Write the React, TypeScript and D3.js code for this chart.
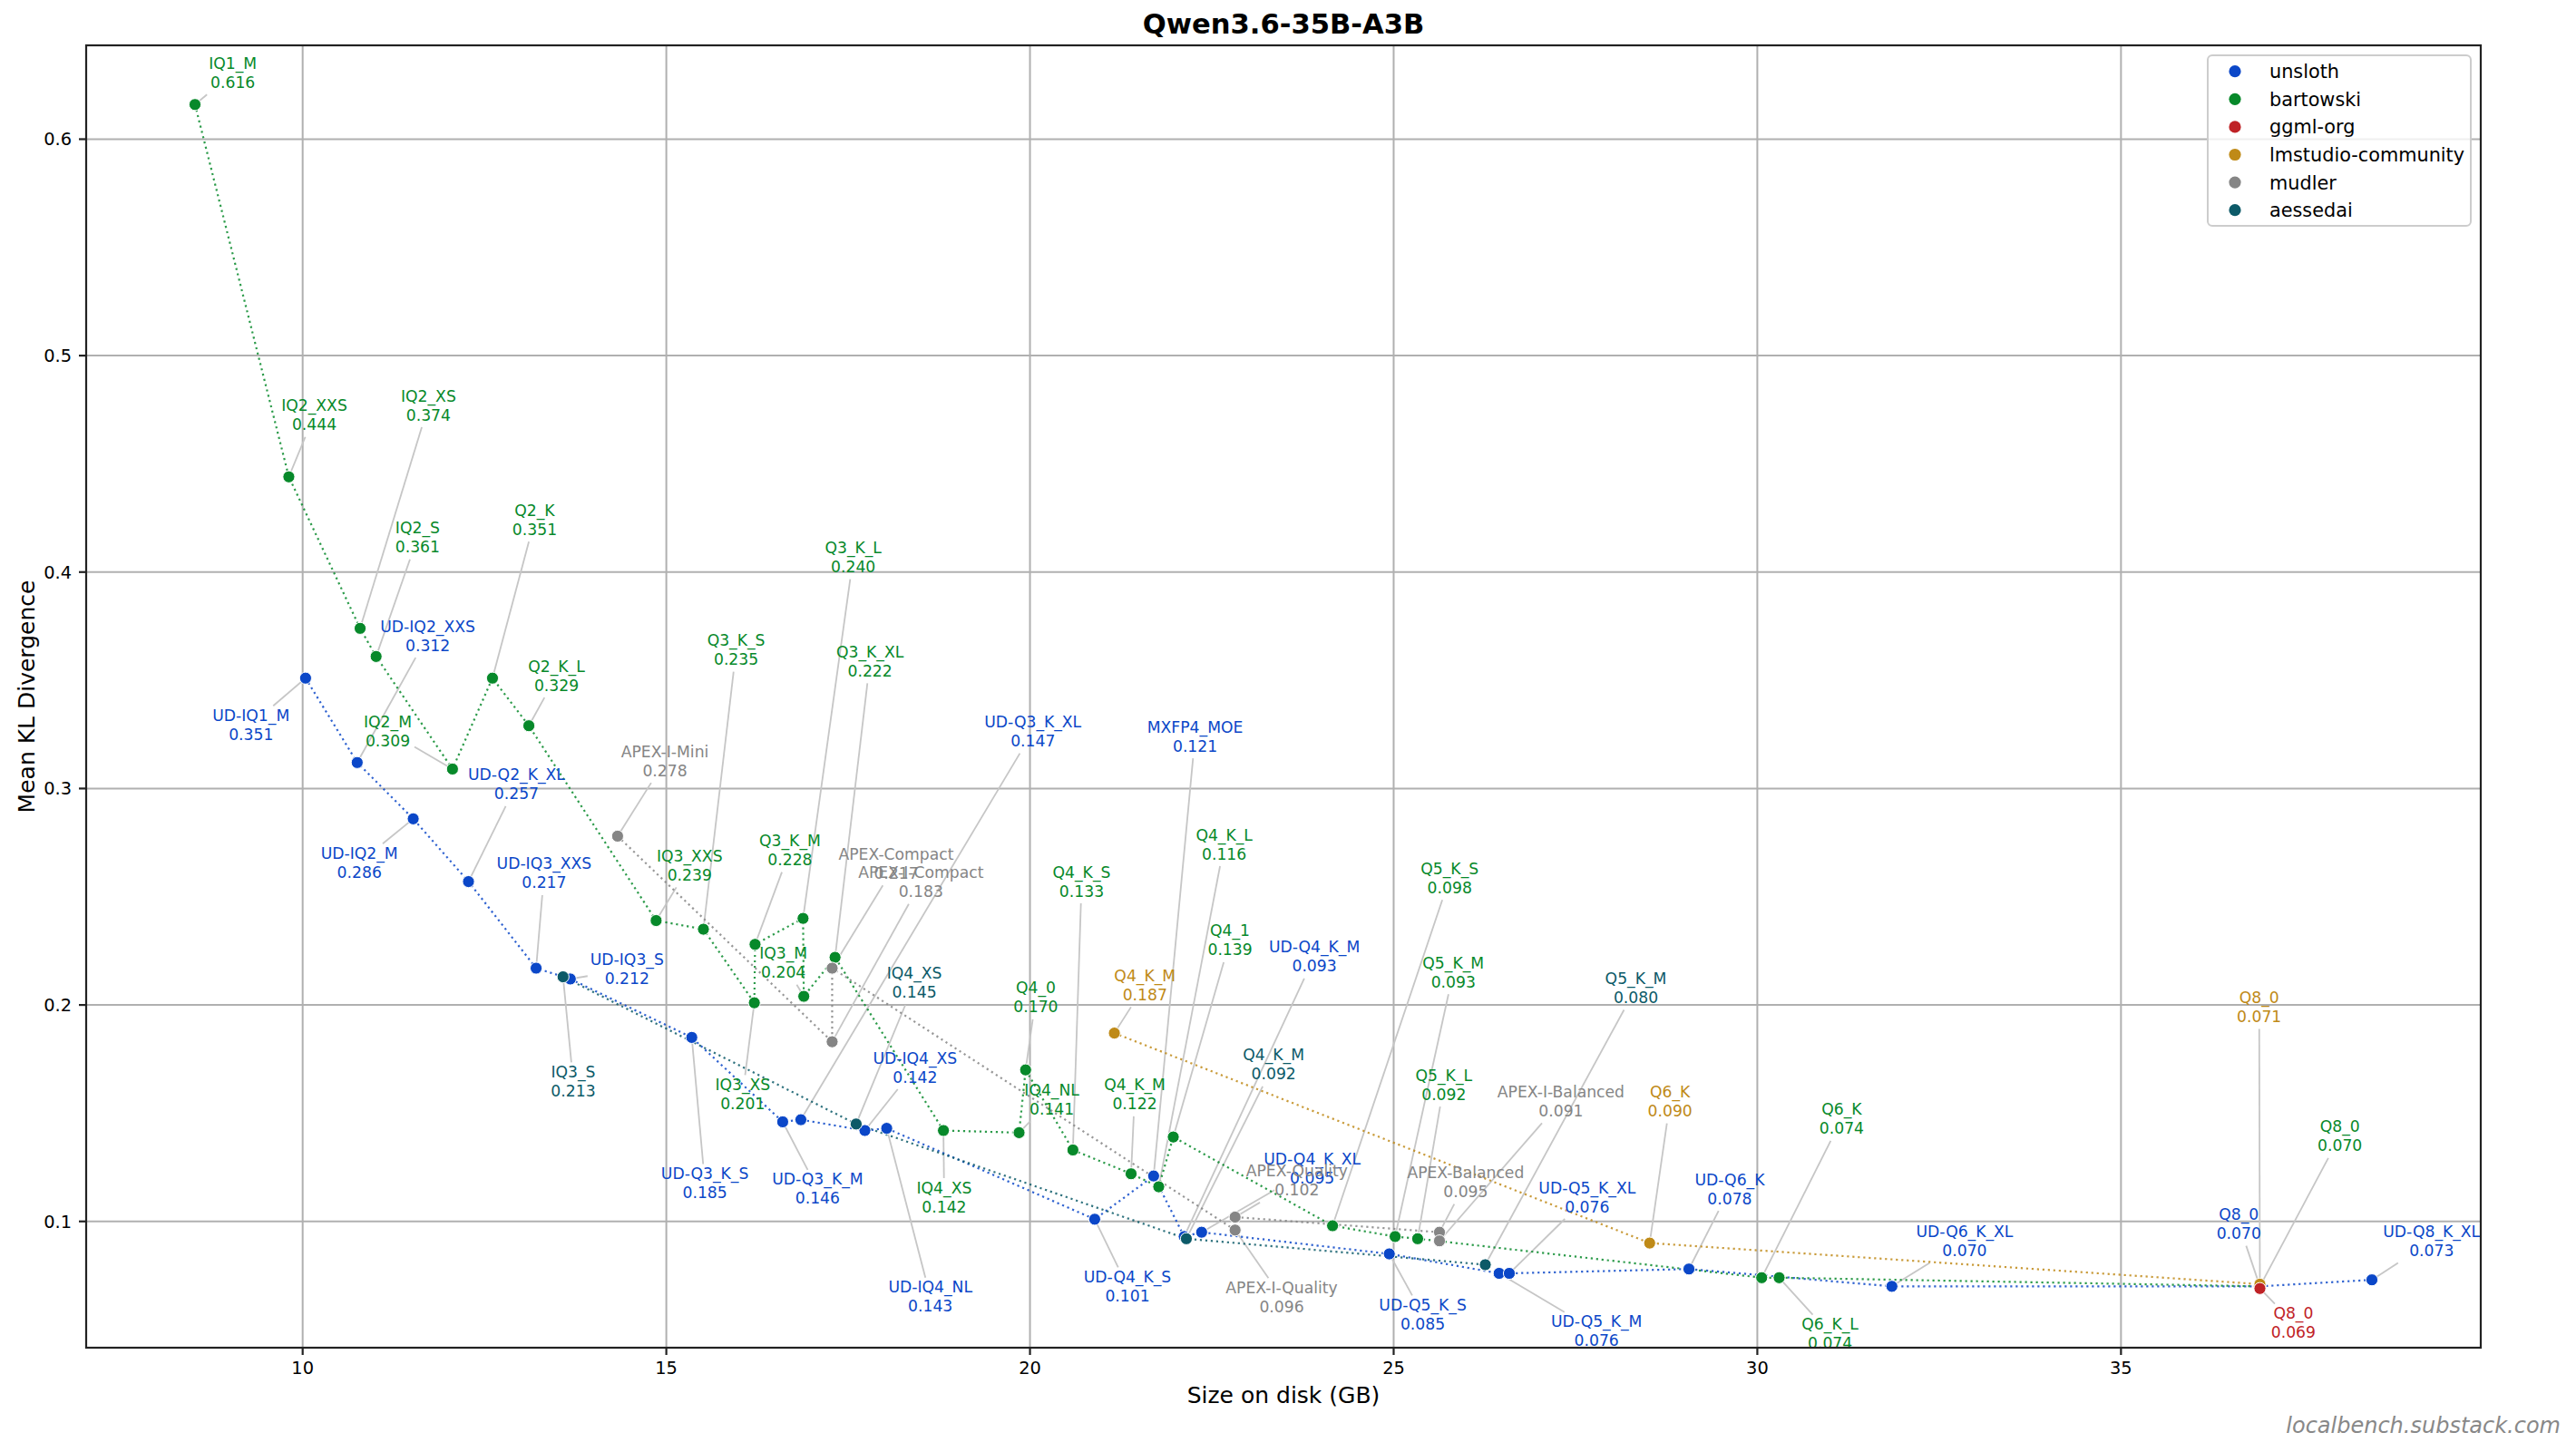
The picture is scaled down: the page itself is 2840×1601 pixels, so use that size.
import { useMemo } from "react";
import * as d3 from "d3";

const WIDTH = 2840;
const HEIGHT = 1601;
const PLOT = { left: 95, right: 2735, top: 50, bottom: 1486 };
const FONT = "DejaVu Sans";
const LABEL_SIZE = 17.2;

// --- unsloth ---
const unslothQuants = ["UD-IQ1_M", "UD-IQ2_XXS", "UD-IQ2_M", "UD-Q2_K_XL", "UD-IQ3_XXS", "UD-IQ3_S", "UD-Q3_K_S", "UD-Q3_K_M", "UD-Q3_K_XL", "UD-IQ4_XS", "UD-IQ4_NL", "UD-Q4_K_S", "MXFP4_MOE", "UD-Q4_K_M", "UD-Q4_K_XL", "UD-Q5_K_S", "UD-Q5_K_M", "UD-Q5_K_XL", "UD-Q6_K", "UD-Q6_K_XL", "Q8_0", "UD-Q8_K_XL"];
const unslothSize = [10.04, 10.75, 11.52, 12.28, 13.21, 13.68, 15.35, 16.6, 16.85, 17.73, 18.03, 20.89, 21.7, 22.12, 22.36, 24.94, 26.45, 26.59, 29.06, 31.85, 36.91, 38.45];
const unslothKld = [0.351, 0.312, 0.286, 0.257, 0.217, 0.212, 0.185, 0.146, 0.147, 0.142, 0.143, 0.101, 0.121, 0.093, 0.095, 0.085, 0.076, 0.076, 0.078, 0.07, 0.07, 0.073];
const unslothLabelX = [9.29, 11.72, 10.78, 12.94, 13.32, 14.46, 15.53, 17.08, 20.04, 18.42, 18.63, 21.34, 22.27, 23.91, 23.88, 25.4, 27.79, 27.66, 29.62, 32.85, 36.62, 39.27];
const unslothLabelY = [0.3294, 0.3705, 0.2657, 0.3019, 0.2608, 0.2164, 0.1177, 0.115, 0.3263, 0.1711, 0.0652, 0.07, 0.324, 0.2223, 0.1245, 0.057, 0.0493, 0.1112, 0.1149, 0.0909, 0.0988, 0.0909];

// --- bartowski ---
const bartowskiQuants = ["IQ1_M", "IQ2_XXS", "IQ2_XS", "IQ2_S", "IQ2_M", "Q2_K", "Q2_K_L", "IQ3_XXS", "Q3_K_S", "IQ3_XS", "Q3_K_M", "Q3_K_L", "IQ3_M", "Q3_K_XL", "IQ4_XS", "IQ4_NL", "Q4_0", "Q4_K_S", "Q4_K_M", "Q4_K_L", "Q4_1", "Q5_K_S", "Q5_K_M", "Q5_K_L", "Q6_K", "Q6_K_L", "Q8_0"];
const bartowskiSize = [8.52, 9.81, 10.79, 11.01, 12.06, 12.61, 13.11, 14.86, 15.51, 16.21, 16.22, 16.88, 16.89, 17.32, 18.81, 19.85, 19.94, 20.59, 21.39, 21.77, 21.97, 24.16, 25.02, 25.33, 30.06, 30.3, 36.91];
const bartowskiKld = [0.616, 0.444, 0.374, 0.361, 0.309, 0.351, 0.329, 0.239, 0.235, 0.201, 0.228, 0.24, 0.204, 0.222, 0.142, 0.141, 0.17, 0.133, 0.122, 0.116, 0.139, 0.098, 0.093, 0.092, 0.074, 0.074, 0.07];
const bartowskiLabelX = [9.04, 10.16, 11.73, 11.58, 11.17, 13.19, 13.49, 15.32, 15.96, 16.05, 16.7, 17.57, 16.61, 17.8, 18.82, 20.3, 20.08, 20.71, 21.44, 22.67, 22.75, 25.77, 25.82, 25.69, 31.16, 31.0, 38.01];
const bartowskiLabelY = [0.6307, 0.4725, 0.477, 0.4159, 0.3265, 0.4241, 0.3521, 0.2644, 0.364, 0.1588, 0.2714, 0.4068, 0.2194, 0.3587, 0.1112, 0.1564, 0.2034, 0.257, 0.1586, 0.2742, 0.2298, 0.2586, 0.215, 0.1631, 0.1473, 0.0481, 0.1393];

// --- ggml-org ---
const ggmlQuants = ["Q8_0"];
const ggmlSize = [36.91];
const ggmlKld = [0.069];
const ggmlLabelX = [37.37];
const ggmlLabelY = [0.0531];

// --- lmstudio-community ---
const lmstudioQuants = ["Q4_K_M", "Q6_K", "Q8_0"];
const lmstudioSize = [21.16, 28.52, 36.91];
const lmstudioKld = [0.187, 0.09, 0.071];
const lmstudioLabelX = [21.58, 28.8, 36.9];
const lmstudioLabelY = [0.2091, 0.1554, 0.199];

// --- mudler ---
const mudlerQuants = ["APEX-I-Mini", "APEX-I-Compact", "APEX-Compact", "APEX-I-Quality", "APEX-Quality", "APEX-Balanced", "APEX-I-Balanced"];
const mudlerSize = [14.33, 17.28, 17.28, 22.82, 22.82, 25.63, 25.63];
const mudlerKld = [0.278, 0.183, 0.217, 0.096, 0.102, 0.095, 0.091];
const mudlerLabelX = [14.98, 18.5, 18.16, 23.46, 23.67, 25.99, 27.3];
const mudlerLabelY = [0.3127, 0.2567, 0.2653, 0.065, 0.1188, 0.1181, 0.1555];

// --- aessedai ---
const aessedaiQuants = ["IQ3_S", "IQ4_XS", "Q4_K_M", "Q5_K_M"];
const aessedaiSize = [13.58, 17.61, 22.15, 26.26];
const aessedaiKld = [0.213, 0.145, 0.092, 0.08];
const aessedaiLabelX = [13.72, 18.41, 23.35, 28.33];
const aessedaiLabelY = [0.1647, 0.2101, 0.1724, 0.2078];

const xTicks = [10, 15, 20, 25, 30, 35];
const yTicks = [0.1, 0.2, 0.3, 0.4, 0.5, 0.6];

interface Series {
  name: string;
  color: string;
  quants: string[];
  size: number[];
  kld: number[];
  labelX: number[];
  labelY: number[];
}

const series: Series[] = [
  { name: "unsloth", color: "#0b47c8", quants: unslothQuants, size: unslothSize, kld: unslothKld, labelX: unslothLabelX, labelY: unslothLabelY },
  { name: "bartowski", color: "#07892a", quants: bartowskiQuants, size: bartowskiSize, kld: bartowskiKld, labelX: bartowskiLabelX, labelY: bartowskiLabelY },
  { name: "ggml-org", color: "#bf2226", quants: ggmlQuants, size: ggmlSize, kld: ggmlKld, labelX: ggmlLabelX, labelY: ggmlLabelY },
  { name: "lmstudio-community", color: "#bf8a17", quants: lmstudioQuants, size: lmstudioSize, kld: lmstudioKld, labelX: lmstudioLabelX, labelY: lmstudioLabelY },
  { name: "mudler", color: "#858585", quants: mudlerQuants, size: mudlerSize, kld: mudlerKld, labelX: mudlerLabelX, labelY: mudlerLabelY },
  { name: "aessedai", color: "#0c5a68", quants: aessedaiQuants, size: aessedaiSize, kld: aessedaiKld, labelX: aessedaiLabelX, labelY: aessedaiLabelY },
];

// ggml-org sits on top of the Q8_0 pile in the original
const markerOrder = ["unsloth", "bartowski", "lmstudio-community", "mudler", "aessedai", "ggml-org"];

export default function App() {
  const allSizes = series.flatMap((s) => s.size);
  const allKld = series.flatMap((s) => s.kld);
  const [xMin, xMax] = d3.extent(allSizes) as [number, number];
  const [yMin, yMax] = d3.extent(allKld) as [number, number];
  const xPad = (xMax - xMin) * 0.05;
  const yPad = (yMax - yMin) * 0.05;

  const x = d3.scaleLinear().domain([xMin - xPad, xMax + xPad]).range([PLOT.left, PLOT.right]);
  const y = d3.scaleLinear().domain([yMin - yPad, yMax + yPad]).range([PLOT.bottom, PLOT.top]);

  const measure = useMemo(() => {
    const ctx = document.createElement("canvas").getContext("2d");
    return (s: string) => {
      if (!ctx) return s.length * LABEL_SIZE * 0.62;
      ctx.font = `${LABEL_SIZE}px "${FONT}"`;
      return ctx.measureText(s).width;
    };
  }, []);

  const line = d3
    .line<number>()
    .x((d) => d);

  // connector from label box edge to the point
  const connectors = series.flatMap((s) =>
    s.quants.map((q, i) => {
      const px = x(s.size[i]);
      const py = y(s.kld[i]);
      const cx = x(s.labelX[i]);
      const cy = y(s.labelY[i]);
      const w = Math.max(measure(q), measure(s.kld[i].toFixed(3)));
      const pad = 3;
      const hw = w / 2 + pad;
      const topOff = 18 + pad;
      const botOff = 21 + pad;
      const dx = px - cx;
      const dy = py - cy;
      const tx = dx === 0 ? Infinity : hw / Math.abs(dx);
      const ty = dy === 0 ? Infinity : (dy > 0 ? botOff : topOff) / Math.abs(dy);
      const t = Math.min(tx, ty);
      if (t >= 1) return null;
      return { key: `${s.name}-${q}-${i}`, x1: cx + dx * t, y1: cy + dy * t, x2: px, y2: py };
    })
  ).filter(Boolean) as { key: string; x1: number; y1: number; x2: number; y2: number }[];

  const pathFor = (s: Series) => {
    const pts = s.size.map((v, i) => [x(v), y(s.kld[i])] as [number, number]);
    return d3.line()(pts) || "";
  };
  void line;

  const legendRowY = (i: number) => 78.7 + i * 30.6;

  return (
    <svg
      width={WIDTH}
      height={HEIGHT}
      style={{ position: "absolute", left: 0, top: 0, background: "#fff" }}
      fontFamily={FONT}
    >
      <rect x={0} y={0} width={WIDTH} height={HEIGHT} fill="#fff" />

      {/* grid */}
      <g stroke="#b0b0b0" strokeWidth={2}>
        {xTicks.map((t) => (
          <line key={`gx${t}`} x1={x(t)} x2={x(t)} y1={PLOT.top} y2={PLOT.bottom} />
        ))}
        {yTicks.map((t) => (
          <line key={`gy${t}`} x1={PLOT.left} x2={PLOT.right} y1={y(t)} y2={y(t)} />
        ))}
      </g>

      {/* connectors */}
      <g stroke="#c6c6c6" strokeWidth={1.8}>
        {connectors.map((c) => (
          <line key={c.key} x1={c.x1} y1={c.y1} x2={c.x2} y2={c.y2} />
        ))}
      </g>

      {/* dotted series lines */}
      {series.map((s) => (
        <path
          key={`l-${s.name}`}
          d={pathFor(s)}
          fill="none"
          stroke={s.color}
          strokeWidth={2.2}
          strokeDasharray="2.2 3.8"
          opacity={0.85}
        />
      ))}

      {/* markers */}
      {markerOrder.map((name) => {
        const s = series.find((d) => d.name === name)!;
        return (
          <g key={`m-${name}`}>
            {s.size.map((v, i) => (
              <circle
                key={i}
                cx={x(v)}
                cy={y(s.kld[i])}
                r={6.6}
                fill={s.color}
                stroke="#fff"
                strokeWidth={1}
              />
            ))}
          </g>
        );
      })}

      {/* labels */}
      {series.map((s) => (
        <g key={`t-${s.name}`} fill={s.color} fontSize={LABEL_SIZE} textAnchor="middle">
          {s.quants.map((q, i) => {
            const cx = x(s.labelX[i]);
            const cy = y(s.labelY[i]);
            return (
              <text key={i} x={cx} y={cy - 4.5}>
                <tspan x={cx}>{q}</tspan>
                <tspan x={cx} y={cy + 16.5}>
                  {s.kld[i].toFixed(3)}
                </tspan>
              </text>
            );
          })}
        </g>
      ))}

      {/* frame */}
      <rect
        x={PLOT.left}
        y={PLOT.top}
        width={PLOT.right - PLOT.left}
        height={PLOT.bottom - PLOT.top}
        fill="none"
        stroke="#222"
        strokeWidth={2.2}
      />

      {/* x ticks */}
      <g fontSize={19.4} fill="#000" textAnchor="middle">
        {xTicks.map((t) => (
          <g key={`xt${t}`}>
            <line x1={x(t)} x2={x(t)} y1={PLOT.bottom} y2={PLOT.bottom + 8} stroke="#222" strokeWidth={2.2} />
            <text x={x(t)} y={PLOT.bottom + 29}>
              {t}
            </text>
          </g>
        ))}
      </g>

      {/* y ticks */}
      <g fontSize={19.4} fill="#000" textAnchor="end">
        {yTicks.map((t) => (
          <g key={`yt${t}`}>
            <line x1={PLOT.left - 8} x2={PLOT.left} y1={y(t)} y2={y(t)} stroke="#222" strokeWidth={2.2} />
            <text x={PLOT.left - 16} y={y(t) + 7}>
              {d3.format(".1f")(t)}
            </text>
          </g>
        ))}
      </g>

      {/* axis titles */}
      <text x={(PLOT.left + PLOT.right) / 2} y={1547} fontSize={25} textAnchor="middle" fill="#000">
        Size on disk (GB)
      </text>
      <text
        transform={`translate(38,${(PLOT.top + PLOT.bottom) / 2}) rotate(-90)`}
        fontSize={25}
        textAnchor="middle"
        fill="#000"
      >
        Mean KL Divergence
      </text>
      <text x={(PLOT.left + PLOT.right) / 2} y={37} fontSize={30.6} fontWeight="bold" textAnchor="middle" fill="#000">
        Qwen3.6-35B-A3B
      </text>

      {/* legend */}
      <g>
        <rect x={2434} y={61} width={290} height={188} rx={5} fill="#fff" fillOpacity={0.8} stroke="#cccccc" strokeWidth={2} />
        {series.map((s, i) => (
          <g key={`lg-${s.name}`}>
            <circle cx={2464} cy={legendRowY(i)} r={6.6} fill={s.color} />
            <text x={2502} y={legendRowY(i) + 7.5} fontSize={20.8} fill="#000">
              {s.name}
            </text>
          </g>
        ))}
      </g>

      {/* watermark */}
      <text x={2823} y={1580} fontSize={24} fontStyle="italic" textAnchor="end" fill="#888">
        localbench.substack.com
      </text>
    </svg>
  );
}
